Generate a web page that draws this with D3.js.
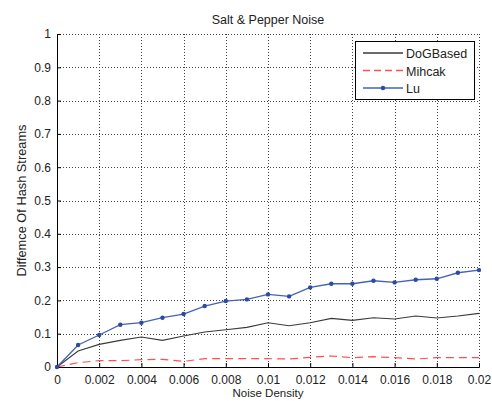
<!DOCTYPE html>
<html>
<head>
<meta charset="utf-8">
<script src="https://cdn.jsdelivr.net/npm/d3@7"></script>
<style>
    body { margin: 0; background: #fff; }
    text { font-family: "Liberation Sans", Arial, sans-serif; fill: #222; }
    .grid line { stroke: #444; stroke-width: 1; stroke-dasharray: 1,2; }
</style>
</head>
<body>
<div id="chart"></div>
<script>
const noiseDensity = [0, 0.001, 0.002, 0.003, 0.004, 0.005, 0.006, 0.007, 0.008, 0.009, 0.010,
    0.011, 0.012, 0.013, 0.014, 0.015, 0.016, 0.017, 0.018, 0.019, 0.020];
const dogBased = [0, 0.048, 0.068, 0.080, 0.090, 0.080, 0.093, 0.105, 0.112, 0.119, 0.133,
    0.124, 0.133, 0.146, 0.140, 0.148, 0.144, 0.153, 0.147, 0.153, 0.161];
const mihcak = [0, 0.013, 0.019, 0.019, 0.022, 0.023, 0.017, 0.025, 0.025, 0.025, 0.025,
    0.024, 0.029, 0.033, 0.028, 0.031, 0.028, 0.024, 0.028, 0.028, 0.028];
const lu = [0, 0.066, 0.096, 0.127, 0.133, 0.148, 0.159, 0.183, 0.198, 0.203, 0.218,
    0.212, 0.239, 0.250, 0.250, 0.259, 0.254, 0.262, 0.265, 0.283, 0.291];
const xTicks = [0, 0.002, 0.004, 0.006, 0.008, 0.01, 0.012, 0.014, 0.016, 0.018, 0.02];
const yTicks = [0, 0.1, 0.2, 0.3, 0.4, 0.5, 0.6, 0.7, 0.8, 0.9, 1];
const seriesNames = ["DoGBased", "Mihcak", "Lu"];

const totalWidth = 492, totalHeight = 401;
const margin = {top: 34, right: 13, bottom: 34, left: 57},
    width = totalWidth - margin.left - margin.right,
    height = totalHeight - margin.top - margin.bottom;

const svg = d3.select("#chart").append("svg")
    .attr("width", totalWidth)
    .attr("height", totalHeight);

const plot = svg.append("g")
    .attr("transform", `translate(${margin.left},${margin.top})`);

const x = d3.scaleLinear().domain([0, 0.02]).range([0, width]);
const y = d3.scaleLinear().domain([0, 1]).range([height, 0]);

// dotted grid, also stands in for the top and right edges
const grid = plot.append("g").attr("class", "grid");
grid.selectAll(".gx").data(xTicks.slice(1)).join("line")
    .attr("x1", d => Math.round(x(d)) + 0.5).attr("x2", d => Math.round(x(d)) + 0.5)
    .attr("y1", 0).attr("y2", height);
grid.selectAll(".gy").data(yTicks.slice(1)).join("line")
    .attr("x1", 0).attr("x2", width)
    .attr("y1", d => Math.round(y(d)) + 0.5).attr("y2", d => Math.round(y(d)) + 0.5);

// axes, ticks point inward
const xAxis = plot.append("g")
    .attr("transform", `translate(0,${height})`)
    .call(d3.axisBottom(x).tickValues(xTicks).tickSize(-4).tickPadding(8)
        .tickFormat(d => d === 0 ? "0" : String(+d.toFixed(3))));
const yAxis = plot.append("g")
    .call(d3.axisLeft(y).tickValues(yTicks).tickSize(-4).tickPadding(6)
        .tickFormat(d => String(+d.toFixed(1))));
[xAxis, yAxis].forEach(a => {
    a.select(".domain").attr("stroke", "#000");
    a.selectAll(".tick line").attr("stroke", "#000");
    a.selectAll(".tick text").attr("font-size", 12).attr("fill", "#222")
        .attr("font-family", "Liberation Sans, Arial, sans-serif");
});

const line = d3.line().x((d, i) => x(noiseDensity[i])).y(d => y(d));

plot.append("path").datum(dogBased)
    .attr("fill", "none").attr("stroke", "#3a3a3a").attr("stroke-width", 1.1)
    .attr("d", line);
plot.append("path").datum(mihcak)
    .attr("fill", "none").attr("stroke", "#ff5050").attr("stroke-width", 1.2)
    .attr("stroke-dasharray", "8,5")
    .attr("d", line);
plot.append("path").datum(lu)
    .attr("fill", "none").attr("stroke", "#4563b3").attr("stroke-width", 1.3)
    .attr("d", line);
plot.selectAll(".lu-pt").data(lu).join("circle")
    .attr("cx", (d, i) => x(noiseDensity[i]))
    .attr("cy", d => y(d))
    .attr("r", 2.2)
    .attr("fill", "#2a4aa5");

// title and labels
svg.append("text")
    .attr("x", margin.left + width / 2).attr("y", 24)
    .attr("text-anchor", "middle").attr("font-size", 12.5)
    .text("Salt & Pepper Noise");
svg.append("text")
    .attr("x", margin.left + width / 2).attr("y", 397)
    .attr("text-anchor", "middle").attr("font-size", 11.5)
    .text("Noise Density");
svg.append("text")
    .attr("transform", `translate(26,${margin.top + height / 2}) rotate(-90)`)
    .attr("text-anchor", "middle").attr("font-size", 12.8)
    .text("Diffemce Of Hash Streams");

// legend
const legend = svg.append("g").attr("transform", "translate(355,41)");
legend.append("rect")
    .attr("x", 0.5).attr("y", 0.5).attr("width", 119).attr("height", 58)
    .attr("fill", "#fff").attr("stroke", "#000").attr("stroke-width", 1);
const styles = [
    {stroke: "#3a3a3a", dash: null, dot: false},
    {stroke: "#ff5050", dash: "7,4", dot: false},
    {stroke: "#4563b3", dash: null, dot: true},
];
seriesNames.forEach((name, i) => {
    const yy = 12 + i * 17.5;
    legend.append("line")
        .attr("x1", 8).attr("x2", 48).attr("y1", yy).attr("y2", yy)
        .attr("stroke", styles[i].stroke).attr("stroke-width", 1.3)
        .attr("stroke-dasharray", styles[i].dash);
    if (styles[i].dot) {
        legend.append("circle").attr("cx", 28).attr("cy", yy).attr("r", 2.2).attr("fill", "#2a4aa5");
    }
    legend.append("text")
        .attr("x", 51).attr("y", yy + 5)
        .attr("font-size", 12.5)
        .text(name);
});
</script>
</body>
</html>
